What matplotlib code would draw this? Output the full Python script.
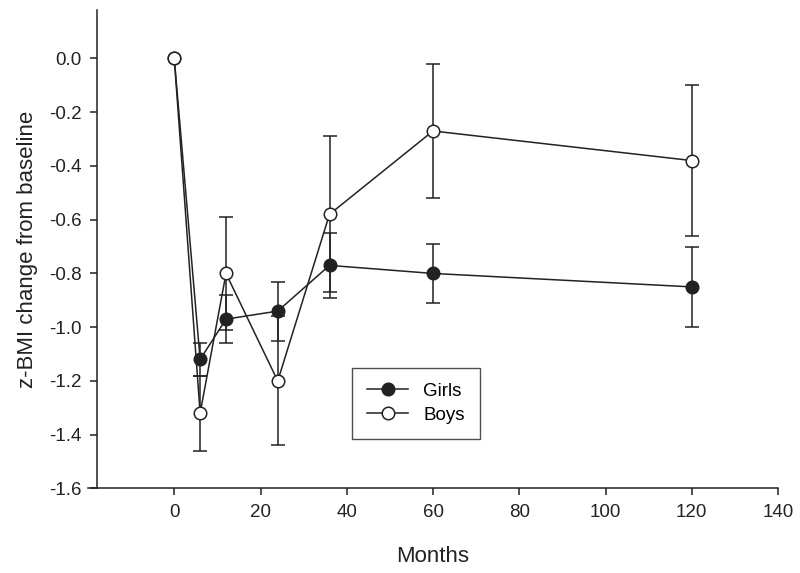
import numpy as np
import matplotlib
matplotlib.use("Agg")
import matplotlib.pyplot as plt

plt.rcParams['font.family'] = ['Liberation Sans', 'DejaVu Sans']

# months since baseline
months = np.array([0, 6, 12, 24, 36, 60, 120])
girls = np.array([0.0, -1.12, -0.97, -0.94, -0.77, -0.80, -0.85])
girls_err = np.array([0.0, 0.06, 0.09, 0.11, 0.12, 0.11, 0.15])
boys = np.array([0.0, -1.32, -0.80, -1.20, -0.58, -0.27, -0.38])
boys_err = np.array([0.0, 0.14, 0.21, 0.24, 0.29, 0.25, 0.28])

yticks = [-1.6, -1.4, -1.2, -1.0, -0.8, -0.6, -0.4, -0.2, 0.0]
ytick_labels = ['-1.6', '-1.4', '-1.2', '-1.0', '-0.8', '-0.6', '-0.4', '-0.2', '0.0']

ink = '#222222'

fig = plt.figure(figsize=(8, 5.73), dpi=100)
ax = fig.add_axes([0.11, 0.1475, 0.8625, 0.835])

# error bars (none at baseline)
ax.errorbar(months[1:], girls[1:], yerr=girls_err[1:], fmt='none', ecolor=ink,
            elinewidth=1.1, capsize=5, capthick=1.1, zorder=2)
ax.errorbar(months[1:], boys[1:], yerr=boys_err[1:], fmt='none', ecolor=ink,
            elinewidth=1.1, capsize=5, capthick=1.1, zorder=2)

ax.plot(months, girls, '-o', color=ink, lw=1.1, ms=9, mfc=ink, mec=ink,
        mew=1.1, label='Girls', zorder=3)
ax.plot(months, boys, '-o', color=ink, lw=1.1, ms=9, mfc='white', mec=ink,
        mew=1.1, label='Boys', zorder=4)

ax.set_xlim(-20, 140)
ax.set_ylim(-1.6, 0.18)
ax.set_xticks(np.arange(0, 141, 20))
ax.set_yticks(yticks)
ax.set_yticklabels(ytick_labels)

ax.spines['top'].set_visible(False)
ax.spines['right'].set_visible(False)
ax.spines['left'].set_position(('data', -18))
for s in ['left', 'bottom']:
    ax.spines[s].set_color(ink)
    ax.spines[s].set_linewidth(1.1)
ax.tick_params(direction='out', length=5, width=1.1, color=ink,
               labelsize=13.5, labelcolor=ink, pad=6)

ax.set_xlabel('Months', fontsize=16, color=ink, labelpad=18)
ax.set_ylabel('z-BMI change from baseline', fontsize=16, color=ink, labelpad=8)

leg = ax.legend(loc='upper left', bbox_to_anchor=(0.44, 0.358),
                bbox_transform=fig.transFigure, fontsize=13.5, frameon=True,
                fancybox=False, borderpad=0.8, handlelength=2.2,
                labelspacing=0.35, borderaxespad=0)
leg.get_frame().set_edgecolor(ink)
leg.get_frame().set_linewidth(1.0)

fig.savefig('out.png', dpi=100)
